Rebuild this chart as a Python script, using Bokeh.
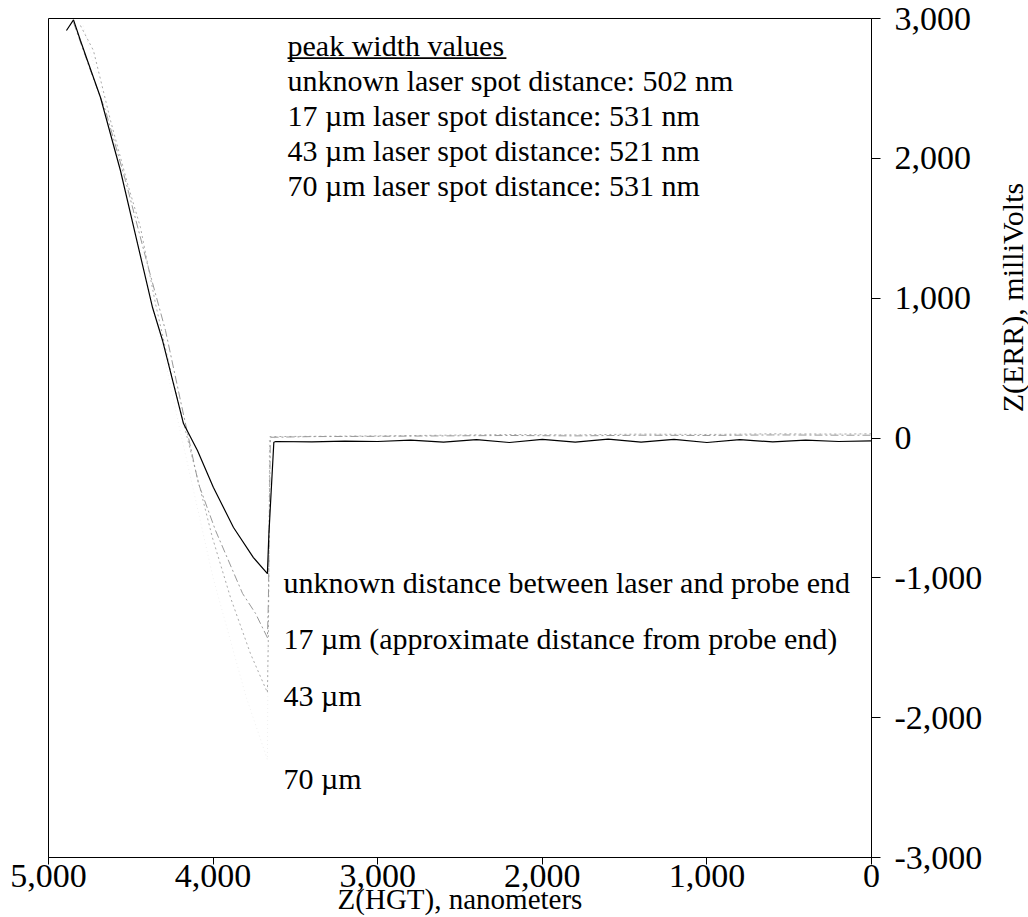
from bokeh.plotting import figure
from bokeh.models import Range1d, NumeralTickFormatter, FixedTicker, Label, BoxAnnotation
from bokeh.layouts import row
from bokeh.embed import file_html
from bokeh.resources import INLINE
import math

# ---- data ----
unknown_x = [4891, 4848, 4806, 4757, 4684, 4563, 4459, 4368, 4307, 4241, 4180, 4095, 3998,
             3876, 3755, 3670, 3661, 3631, 3619, 3400, 3200, 3000, 2800, 2600, 2400, 2200,
             2000, 1800, 1600, 1400, 1200, 1000, 800, 600, 400, 200, 0]
unknown_y = [2914, 2990, 2843, 2678, 2435, 1913, 1390, 933, 697, 389, 103, -90, -354,
             -640, -855, -970, -684, -30, -25, -28, -22, -25, -15, -30, -12, -32,
             -10, -30, -8, -30, -10, -32, -12, -28, -15, -25, -20]

um17_x = [4848, 4745, 4654, 4532, 4405, 4289, 4198, 4089, 3985, 3821, 3742, 3670, 3664,
          3652, 3400, 3000, 2600, 2200, 1800, 1400, 1000, 600, 200, 0]
um17_y = [2971, 2628, 2342, 1841, 1269, 768, 267, -326, -662, -1112, -1255, -1428, -1162,
          5, 10, 12, 15, 18, 15, 20, 18, 22, 20, 20]

um43_x = [4806, 4727, 4623, 4520, 4441, 4350, 4259, 4168, 4004, 3894, 3773, 3670, 3664,
          3655, 3400, 3000, 2600, 2200, 1800, 1400, 1000, 600, 200, 0]
um43_y = [2950, 2771, 2270, 1820, 1505, 961, 482, 53, -713, -1142, -1542, -1821, -1400,
          10, 12, 15, 20, 25, 22, 28, 25, 30, 28, 30]

um70_x = [4790, 4600, 4400, 4200, 4000, 3800, 3670, 3660, 3400, 2000, 0]
um70_y = [2950, 2150, 1150, 50, -1000, -1850, -2300, 0, 10, 25, 30]

x_ticks = [5000, 4000, 3000, 2000, 1000, 0]
y_ticks = [3000, 2000, 1000, 0, -1000, -2000, -3000]

x_title = "Z(HGT), nanometers"
y_title = "Z(ERR), milliVolts"
peak_title = "peak width values"
peak_lines = ["unknown laser spot distance: 502 nm",
              "17 \u00b5m laser spot distance: 531 nm",
              "43 \u00b5m laser spot distance: 521 nm",
              "70 \u00b5m laser spot distance: 531 nm"]
curve_labels = ["unknown distance between laser and probe end",
                "17 \u00b5m (approximate distance from probe end)",
                "43 \u00b5m",
                "70 \u00b5m"]
curve_label_y = [-1034, -1434, -1842, -2435]

FONT = "Liberation Serif"
FS = "30px"
TICK_FS = "34px"

p = figure(width=990, height=917, x_range=Range1d(5000, 0), y_range=Range1d(-3000, 3000),
           y_axis_location="right", output_backend="svg", toolbar_location=None,
           min_border_left=48, min_border_right=119, min_border_top=18, min_border_bottom=60)
p.grid.visible = False
p.outline_line_color = "black"
p.outline_line_width = 1
p.background_fill_color = "white"
p.border_fill_color = "white"

for ax in (p.xaxis[0], p.yaxis[0]):
    ax.formatter = NumeralTickFormatter(format="0,0")
    ax.minor_tick_line_color = None
    ax.major_tick_in = 0
    ax.axis_line_color = "black"
    ax.major_tick_line_color = "black"
    ax.major_label_text_font = FONT
    ax.major_label_text_font_size = TICK_FS
    ax.major_label_text_color = "black"
p.xaxis[0].ticker = FixedTicker(ticks=x_ticks)
p.yaxis[0].ticker = FixedTicker(ticks=y_ticks)
p.xaxis[0].major_tick_out = 7
p.xaxis[0].major_label_standoff = 0
p.yaxis[0].major_tick_out = 9
p.yaxis[0].major_label_standoff = 14

p.xaxis[0].axis_label = x_title
p.xaxis[0].axis_label_text_font = FONT
p.xaxis[0].axis_label_text_font_size = "29px"
p.xaxis[0].axis_label_text_font_style = "normal"
p.xaxis[0].axis_label_text_color = "black"
p.xaxis[0].axis_label_standoff = -7

# curves
p.line(um70_x, um70_y, line_color="#f0f0f0", line_width=1, line_dash="1 3")
p.line(um43_x, um43_y, line_color="#aaaaaa", line_width=1, line_dash="2 3")
p.line(um17_x, um17_y, line_color="#999999", line_width=1, line_dash="8 3 2 3")
p.line(unknown_x, unknown_y, line_color="black", line_width=1.2)

# peak width annotation block
px0 = 3548
p.add_layout(Label(x=px0, y=2807, text=peak_title, text_font=FONT, text_font_size=FS,
                   text_baseline="middle", text_align="left", text_color="black"))
p.add_layout(BoxAnnotation(left=px0, right=px0 - 1330, top=2722, bottom=2711,
                           fill_color="black", fill_alpha=1, line_color=None))
for i, t in enumerate(peak_lines):
    p.add_layout(Label(x=px0, y=2557 - i * 250, text=t, text_font=FONT, text_font_size=FS,
                       text_baseline="middle", text_align="left", text_color="black"))

for t, yy in zip(curve_labels, curve_label_y):
    p.add_layout(Label(x=3572, y=yy, text=t, text_font=FONT, text_font_size=FS,
                       text_baseline="middle", text_align="left", text_color="black"))

# narrow strip on the right holding the rotated y-axis title
p2 = figure(width=38, height=917, x_range=Range1d(0, 38), y_range=Range1d(0, 917),
            output_backend="svg", toolbar_location=None,
            min_border_left=0, min_border_right=0, min_border_top=0, min_border_bottom=0)
p2.axis.visible = False
p2.grid.visible = False
p2.outline_line_color = None
p2.background_fill_color = "white"
p2.border_fill_color = "white"
p2.add_layout(Label(x=22, y=612, text=y_title, text_font=FONT, text_font_size=FS,
                    text_baseline="middle", text_align="center", angle=math.pi / 2,
                    text_color="black"))

layout = row(p, p2)
open("out.html", "w").write(file_html(layout, INLINE))
